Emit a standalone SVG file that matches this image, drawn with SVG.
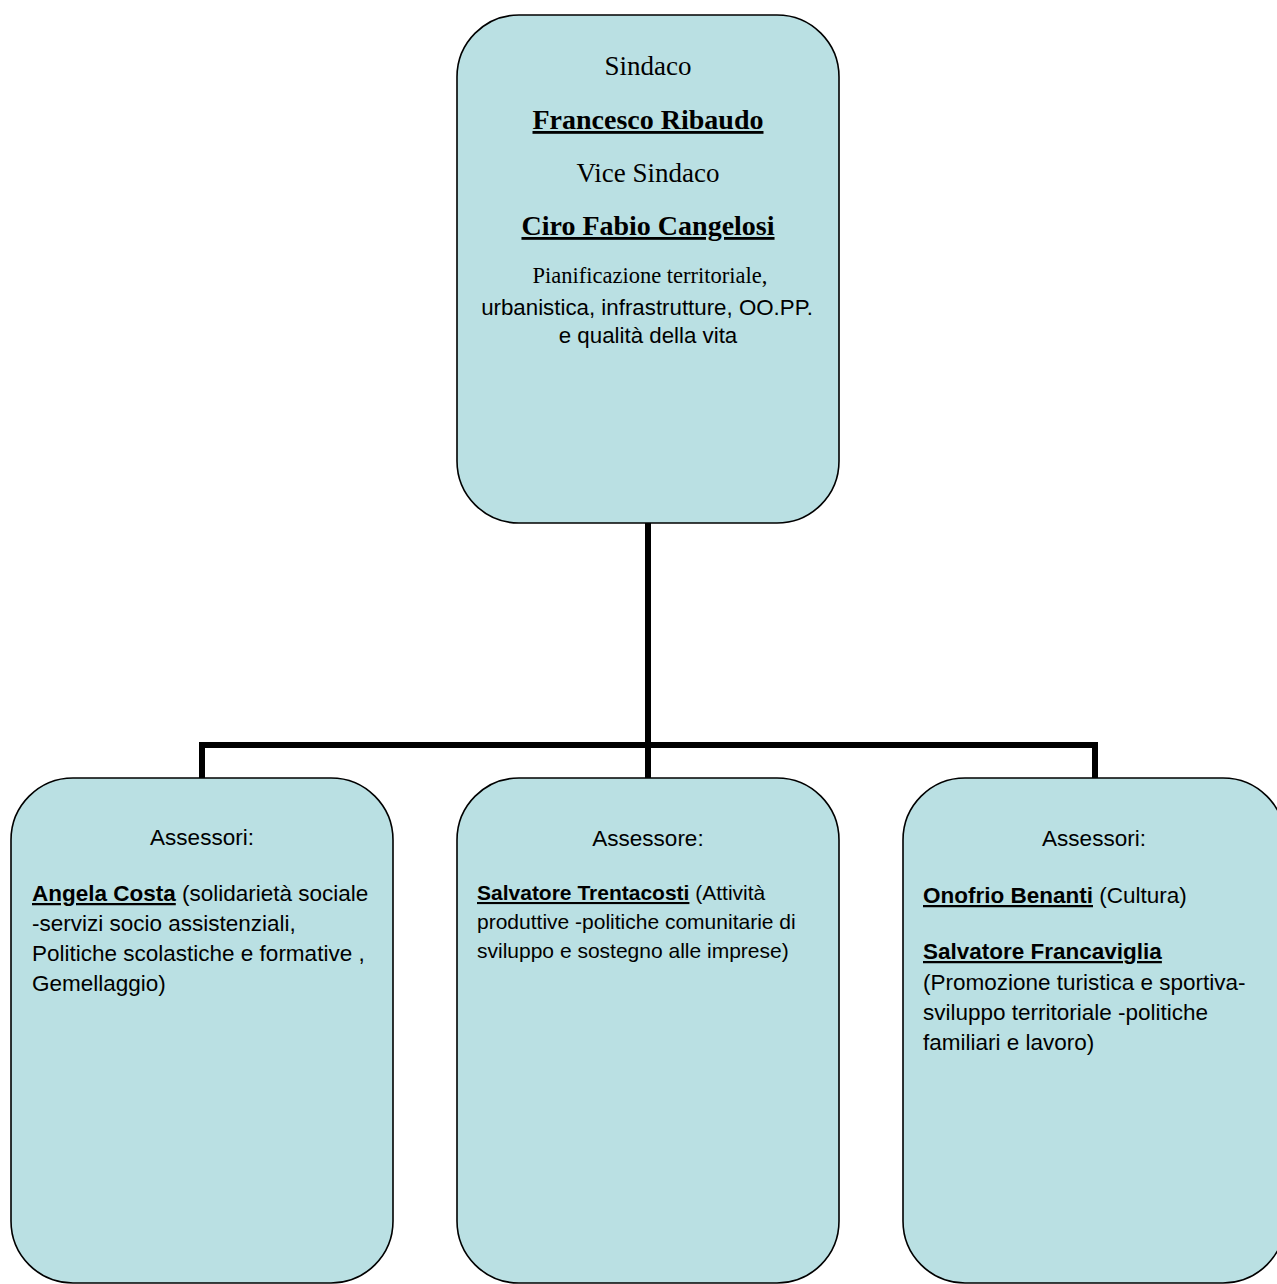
<svg xmlns="http://www.w3.org/2000/svg" width="1277" height="1284" viewBox="0 0 1277 1284">
<style>
.box{fill:#bae0e3;stroke:#000;stroke-width:1.6}
.conn{fill:none;stroke:#000;stroke-width:6;stroke-linejoin:miter;stroke-linecap:butt}
.tm{font-family:"Liberation Serif","Times New Roman",serif;fill:#000}
.ar{font-family:"Liberation Sans",Arial,sans-serif;fill:#000}
.b{font-weight:bold;text-decoration:underline}
</style>
<rect width="1277" height="1284" fill="#fff"/>
<g id="connectors">
<path class="conn" d="M648,520 V745 M202,781 V745 H1095 V781 M648,745 V781"/>
</g>
<g id="sindaco">
<rect class="box" x="457" y="15" width="382" height="508" rx="62" ry="62"/>
<text class="tm" x="648" y="75" font-size="27" text-anchor="middle">Sindaco</text>
<text class="tm b" x="648" y="129" font-size="28" text-anchor="middle">Francesco Ribaudo</text>
<text class="tm" x="648" y="182" font-size="27" text-anchor="middle">Vice Sindaco</text>
<text class="tm b" x="648" y="235" font-size="28" text-anchor="middle">Ciro Fabio Cangelosi</text>
<text class="tm" x="650" y="283" font-size="22.5" text-anchor="middle">Pianificazione territoriale,</text>
<text class="ar" x="647" y="315" font-size="22.3" text-anchor="middle">urbanistica, infrastrutture, OO.PP.</text>
<text class="ar" x="648" y="343" font-size="22.3" text-anchor="middle">e qualità della vita</text>
</g>
<g id="assessori-left">
<rect class="box" x="11" y="778" width="382" height="505" rx="62" ry="62"/>
<text class="ar" x="202" y="845" font-size="22.5" text-anchor="middle">Assessori:</text>
<text class="ar" x="32" y="901" font-size="22.5"><tspan class="b">Angela Costa</tspan> (solidarietà sociale</text>
<text class="ar" x="32" y="931" font-size="22.5">-servizi socio assistenziali,</text>
<text class="ar" x="32" y="961" font-size="22.5">Politiche scolastiche e formative ,</text>
<text class="ar" x="32" y="991" font-size="22.5">Gemellaggio)</text>
</g>
<g id="assessore-middle">
<rect class="box" x="457" y="778" width="382" height="505" rx="62" ry="62"/>
<text class="ar" x="648" y="846" font-size="22.5" text-anchor="middle">Assessore:</text>
<text class="ar" x="477" y="900" font-size="21"><tspan class="b">Salvatore Trentacosti</tspan> (Attività</text>
<text class="ar" x="477" y="929" font-size="21">produttive -politiche comunitarie di</text>
<text class="ar" x="477" y="958" font-size="21">sviluppo e sostegno alle imprese)</text>
</g>
<g id="assessori-right">
<rect class="box" x="903" y="778" width="382" height="505" rx="62" ry="62"/>
<text class="ar" x="1094" y="846" font-size="22.5" text-anchor="middle">Assessori:</text>
<text class="ar" x="923" y="903" font-size="22.5"><tspan class="b">Onofrio Benanti</tspan> (Cultura)</text>
<text class="ar" x="923" y="959" font-size="22.5"><tspan class="b">Salvatore Francaviglia</tspan></text>
<text class="ar" x="923" y="990" font-size="22.5">(Promozione turistica e sportiva-</text>
<text class="ar" x="923" y="1020" font-size="22.5">sviluppo territoriale -politiche</text>
<text class="ar" x="923" y="1050" font-size="22.5">familiari e lavoro)</text>
</g>
</svg>
